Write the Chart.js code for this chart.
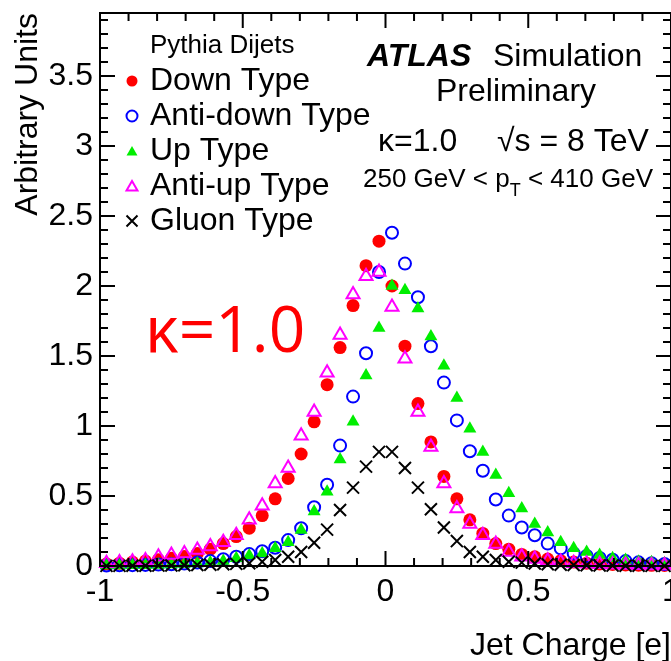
<!DOCTYPE html>
<html>
<head>
<meta charset="utf-8">
<title>Jet Charge</title>
<script src="https://cdn.jsdelivr.net/npm/chart.js@4.4.1/dist/chart.umd.min.js"></script>
<style>
  html, body { margin: 0; padding: 0; background: #fff; overflow: hidden; }
  #wrap { width: 671px; height: 661px; }
</style>
</head>
<body>
<div id="wrap"><canvas id="jetCharge" width="671" height="661"></canvas></div>
<script>
// histogram binning of the jet charge, 44 bins from -1 to 1
const nBins = 44;
const xMin = -1;
const xMax = 1;
const binCenters = Array.from({ length: nBins }, (_, i) => xMin + (i + 0.5) * (xMax - xMin) / nBins);

// values (arbitrary units)
const downType = [
  0.015, 0.02, 0.028, 0.035, 0.045, 0.055, 0.068, 0.09, 0.12, 0.16,
  0.21, 0.27, 0.36, 0.48, 0.625, 0.80, 1.03, 1.295, 1.56, 1.86,
  2.145, 2.32, 2.00, 1.57, 1.16, 0.886, 0.64, 0.48, 0.33, 0.233,
  0.16, 0.12, 0.083, 0.066, 0.05, 0.038, 0.028, 0.02, 0.015, 0.011,
  0.008, 0.006, 0.005, 0.004
];
const antiDownType = [
  0.004, 0.005, 0.006, 0.008, 0.01, 0.013, 0.017, 0.025, 0.035, 0.048,
  0.066, 0.085, 0.105, 0.13, 0.185, 0.27, 0.42, 0.58, 0.86, 1.21,
  1.52, 2.10, 2.38, 2.16, 1.92, 1.57, 1.31, 1.04, 0.82, 0.68,
  0.475, 0.36, 0.275, 0.22, 0.16, 0.126, 0.09, 0.072, 0.058, 0.045,
  0.035, 0.026, 0.02, 0.014
];
const upType = [
  0.003, 0.004, 0.005, 0.006, 0.008, 0.01, 0.014, 0.018, 0.025, 0.035,
  0.055, 0.075, 0.09, 0.126, 0.17, 0.257, 0.39, 0.53, 0.76, 1.03,
  1.36, 1.70, 2.00, 1.97, 1.84, 1.64, 1.43, 1.20, 0.98, 0.815,
  0.65, 0.52, 0.41, 0.30, 0.24, 0.17, 0.126, 0.10, 0.078, 0.055,
  0.043, 0.031, 0.026, 0.02
];
const antiUpType = [
  0.02, 0.025, 0.03, 0.04, 0.066, 0.078, 0.09, 0.114, 0.14, 0.17,
  0.22, 0.33, 0.43, 0.59, 0.70, 0.93, 1.10, 1.38, 1.65, 1.94,
  2.07, 2.10, 1.85, 1.48, 1.10, 0.85, 0.59, 0.41, 0.30, 0.22,
  0.157, 0.10, 0.066, 0.05, 0.038, 0.028, 0.02, 0.016, 0.012, 0.009,
  0.007, 0.005, 0.004, 0.003
];
const gluonType = [
  0.001, 0.001, 0.002, 0.002, 0.003, 0.004, 0.005, 0.007, 0.009, 0.012,
  0.015, 0.02, 0.03, 0.043, 0.066, 0.10, 0.166, 0.26, 0.40, 0.56,
  0.71, 0.815, 0.815, 0.70, 0.56, 0.405, 0.275, 0.178, 0.10, 0.066,
  0.043, 0.03, 0.024, 0.018, 0.012, 0.009, 0.007, 0.005, 0.004, 0.003,
  0.002, 0.002, 0.001, 0.001
];

const seriesLabels = ["Down Type", "Anti-down Type", "Up Type", "Anti-up Type", "Gluon Type"];
const yMax = 3.95;

const FONT = '"Liberation Sans", Arial, Helvetica, sans-serif';

function toPoints(values) {
  return binCenters.map((x, i) => ({ x, y: values[i] }));
}

// dataset styles, same order as seriesLabels
const markerStyles = [
  { pointStyle: "circle", radius: 6.5, color: "#ff0000", filled: true },
  { pointStyle: "circle", radius: 6, color: "#0000ff", filled: false },
  { pointStyle: "triangle", radius: 7.5, color: "#00ee00", filled: true },
  { pointStyle: "triangle", radius: 7.5, color: "#ff00ff", filled: false },
  { pointStyle: "crossRot", radius: 8.5, color: "#000000", filled: false },
];
const seriesValues = [downType, antiDownType, upType, antiUpType, gluonType];

const datasets = seriesValues.map((values, i) => {
  const s = markerStyles[i];
  return {
    label: seriesLabels[i],
    data: toPoints(values),
    pointStyle: s.pointStyle,
    pointRadius: s.radius,
    pointBackgroundColor: s.filled ? s.color : "rgba(0,0,0,0)",
    pointBorderColor: s.color,
    pointBorderWidth: s.filled ? 0 : 2,
    showLine: false,
    clip: false,
    order: 5 - i, // red at the back, gluon crosses on top
  };
});

// draw one legend marker by hand
function drawMarker(ctx, style, x, y, r) {
  ctx.save();
  ctx.lineWidth = 2;
  ctx.strokeStyle = style.color;
  ctx.fillStyle = style.color;
  ctx.beginPath();
  if (style.pointStyle === "circle") {
    ctx.arc(x, y, r, 0, Math.PI * 2);
  } else if (style.pointStyle === "triangle") {
    for (let k = 0; k < 3; k++) {
      const a = k * 2 * Math.PI / 3;
      const px = x + Math.sin(a) * r * 1.15;
      const py = y - Math.cos(a) * r * 1.15 + r * 0.25;
      if (k === 0) ctx.moveTo(px, py); else ctx.lineTo(px, py);
    }
    ctx.closePath();
  } else {
    ctx.moveTo(x - r, y - r); ctx.lineTo(x + r, y + r);
    ctx.moveTo(x + r, y - r); ctx.lineTo(x - r, y + r);
  }
  if (style.filled) ctx.fill(); else ctx.stroke();
  ctx.restore();
}

// ROOT style frame with inward ticks on all four sides
const axisFrame = {
  id: "axisFrame",
  afterDatasetsDraw(chart) {
    const { ctx, chartArea, scales } = chart;
    const { left, right, top, bottom } = chartArea;
    ctx.save();
    ctx.strokeStyle = "#000";
    ctx.lineWidth = 2;
    ctx.strokeRect(left, top, right - left, bottom - top);
    ctx.beginPath();
    for (let k = -10; k <= 10; k++) {
      const px = scales.x.getPixelForValue(k / 10);
      const len = k % 5 === 0 ? 15 : 8;
      ctx.moveTo(px, bottom); ctx.lineTo(px, bottom - len);
      ctx.moveTo(px, top); ctx.lineTo(px, top + len);
    }
    for (let k = 0; k / 10 <= yMax; k++) {
      const py = scales.y.getPixelForValue(k / 10);
      const len = k % 5 === 0 ? 15 : 8;
      ctx.moveTo(left, py); ctx.lineTo(left + len, py);
      ctx.moveTo(right, py); ctx.lineTo(right - len, py);
    }
    ctx.stroke();
    ctx.restore();
  },
};

// legend, ATLAS label and the big kappa text
const annotations = {
  id: "annotations",
  afterDraw(chart) {
    const ctx = chart.ctx;
    ctx.save();
    ctx.fillStyle = "#000";
    ctx.textBaseline = "alphabetic";
    ctx.textAlign = "left";

    ctx.font = "26px " + FONT;
    ctx.fillText("Pythia Dijets", 150, 53);
    ctx.font = "32px " + FONT;
    seriesLabels.forEach((label, i) => {
      const baseY = 90 + i * 35;
      drawMarker(ctx, markerStyles[i], 132, baseY - 9, 5.5);
      ctx.fillText(label, 150, baseY);
    });

    ctx.font = "bold italic 32px " + FONT;
    ctx.fillText("ATLAS", 367, 66);
    ctx.font = "32px " + FONT;
    ctx.fillText("Simulation", 493, 66);
    ctx.fillText("Preliminary", 436, 101);
    ctx.fillText("\u03ba=1.0", 378, 151);
    ctx.fillText("\u221as = 8 TeV", 497, 151);

    // 250 GeV < pT < 410 GeV
    ctx.font = "26px " + FONT;
    let x = 363;
    const part1 = "250 GeV < p";
    ctx.fillText(part1, x, 187);
    x += ctx.measureText(part1).width;
    ctx.font = "18px " + FONT;
    ctx.fillText("T", x, 196);
    x += ctx.measureText("T").width;
    ctx.font = "26px " + FONT;
    ctx.fillText(" < 410 GeV", x, 187);

    ctx.fillStyle = "#ff0000";
    ctx.font = '64px "Open Sans", sans-serif';
    ctx.fillText("\u03ba=1.0", 145, 352);
    ctx.restore();
  },
};

const tickFont = { family: FONT, size: 32 };
// plain labels like ROOT: 3 instead of 3.0, -1 instead of -1.0
const plainLabel = (value) => String(Math.round(value * 10) / 10);

new Chart(document.getElementById("jetCharge"), {
  type: "scatter",
  data: { datasets },
  options: {
    responsive: false,
    animation: false,
    layout: { autoPadding: false, padding: { top: 13, right: 0, bottom: 0, left: 0 } },
    plugins: {
      legend: { display: false },
      tooltip: { enabled: false },
    },
    scales: {
      x: {
        type: "linear",
        min: xMin,
        max: xMax,
        grid: { display: false, drawTicks: false },
        border: { display: false },
        ticks: {
          stepSize: 0.5,
          autoSkip: false,
          maxRotation: 0,
          padding: 7,
          color: "#000",
          font: tickFont,
          callback: plainLabel,
        },
        title: {
          display: true,
          text: "Jet Charge [e]",
          align: "end",
          color: "#000",
          font: { family: FONT, size: 32, lineHeight: 0.9 },
          padding: 0,
        },
        afterFit(scale) {
          scale.height = 95;
          scale.paddingLeft = 0;
          scale.paddingRight = 0;
        },
      },
      y: {
        type: "linear",
        min: 0,
        max: yMax,
        grid: { display: false, drawTicks: false },
        border: { display: false },
        ticks: {
          stepSize: 0.5,
          includeBounds: false,
          padding: 7,
          color: "#000",
          font: tickFont,
          callback: plainLabel,
        },
        title: {
          display: true,
          text: "Arbitrary Units",
          align: "end",
          color: "#000",
          font: { family: FONT, size: 32 },
          padding: { top: 9, bottom: 0 },
        },
        afterFit(scale) {
          scale.width = 100;
          scale.paddingTop = 0;
          scale.paddingBottom = 0;
        },
      },
    },
  },
  plugins: [axisFrame, annotations],
});
</script>
</body>
</html>
